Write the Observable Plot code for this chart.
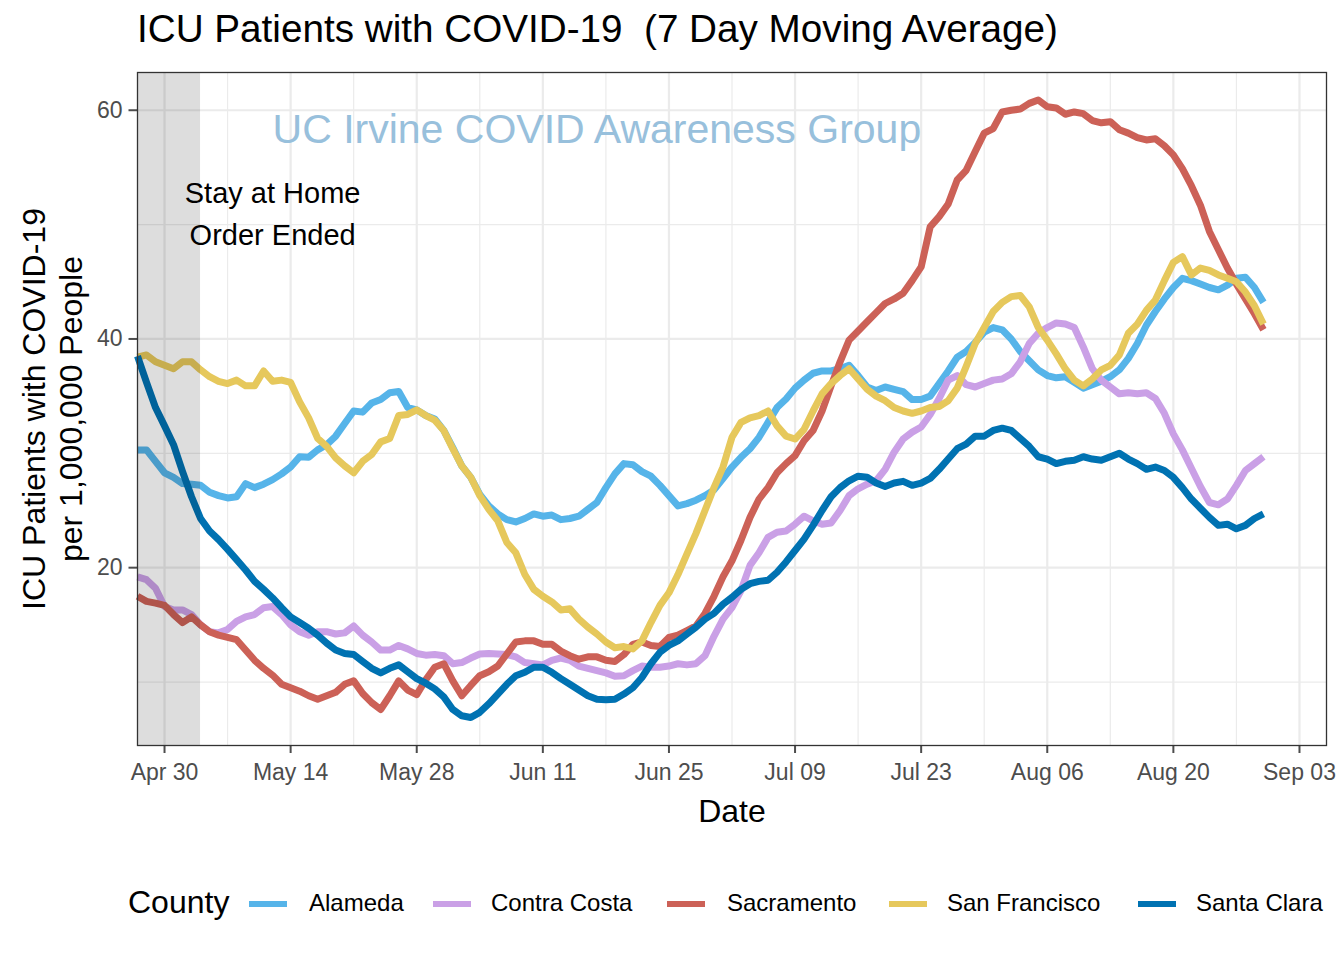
<!DOCTYPE html>
<html>
<head>
<meta charset="utf-8">
<script src="https://cdn.jsdelivr.net/npm/d3@7"></script>
<script src="https://cdn.jsdelivr.net/npm/@observablehq/plot@0.6"></script>
<style>
  html, body { margin: 0; padding: 0; background: #fff; overflow: hidden; }
  body { font-family: "Liberation Sans", Arial, Helvetica, sans-serif; }
  #wrap { position: relative; width: 1344px; height: 960px; }
  #title { position: absolute; left: 137px; top: 10px; font-size: 38px; line-height: 1; white-space: pre; color: #000; transform-origin: left top; }
  #chart { position: absolute; left: 0; top: 60px; }
  .leg { position: absolute; white-space: pre; color: #000; line-height: 1; }
  .key { position: absolute; height: 6px; width: 38px; }
</style>
</head>
<body>
<div id="wrap">
  <div id="title">ICU Patients with COVID-19  (7 Day Moving Average)</div>
  <div id="chart"></div>
  <div id="legend"></div>
</div>
<script>
// ---- data (daily values starting 2020-04-27) ----
const startDate = "2020-04-27";
const counties = ["Alameda", "Contra Costa", "Sacramento", "San Francisco", "Santa Clara"];
const colors = ["#56B4E9", "#CAA0E6", "#CC6157", "#E6C85C", "#0072B2"];

const alameda = [30.3,30.3,29.3,28.3,27.9,27.35,27.3,27.2,26.6,26.3,26.1,26.2,27.35,27.0,27.3,27.7,28.2,28.8,29.7,29.65,30.3,30.75,31.5,32.6,33.7,33.6,34.4,34.7,35.3,35.4,34.0,33.8,33.3,33.0,32.0,30.5,28.9,27.9,26.4,25.4,24.7,24.2,24.0,24.3,24.7,24.5,24.6,24.2,24.3,24.5,25.1,25.7,27.0,28.2,29.1,29.0,28.4,28.0,27.2,26.3,25.4,25.6,25.9,26.3,26.8,27.8,28.8,29.65,30.4,31.4,32.7,34.0,34.75,35.7,36.4,37.0,37.2,37.2,37.4,37.7,36.8,35.8,35.5,35.8,35.6,35.4,34.7,34.7,35.0,36.1,37.2,38.4,38.9,39.7,40.6,41.0,40.8,40.0,38.9,38.1,37.3,36.8,36.6,36.7,36.2,35.7,36.0,36.3,36.7,37.3,38.3,39.6,41.2,42.4,43.5,44.5,45.3,45.1,44.8,44.5,44.3,44.7,45.3,45.4,44.5,43.2];

const contraCosta = [19.2,18.95,18.2,16.6,16.3,16.3,15.9,15.0,14.4,14.3,14.6,15.3,15.7,15.9,16.5,16.6,15.9,15.0,14.4,14.1,14.4,14.4,14.2,14.3,14.9,14.1,13.5,12.8,12.8,13.2,12.9,12.5,12.35,12.4,12.3,11.6,11.7,12.1,12.45,12.5,12.45,12.4,12.2,11.7,11.6,11.5,11.9,12.1,11.9,11.4,11.2,11.0,10.8,10.5,10.55,11.0,11.4,11.3,11.3,11.4,11.6,11.5,11.6,12.3,14.0,15.5,16.5,18.0,20.2,21.3,22.65,23.1,23.2,23.8,24.5,24.1,23.8,23.9,25.0,26.3,26.9,27.3,27.6,28.6,30.1,31.25,31.85,32.3,33.4,34.8,36.4,36.8,36.0,35.8,36.1,36.4,36.5,36.95,38.0,39.6,40.5,41.0,41.4,41.3,41.0,39.3,37.4,36.4,35.8,35.2,35.3,35.2,35.3,34.8,33.5,31.7,30.3,28.7,27.1,25.7,25.5,26.0,27.2,28.5,29.1,29.7];

const sacramento = [17.5,17.05,16.9,16.7,15.9,15.2,15.7,15.0,14.4,14.1,13.9,13.7,12.8,11.9,11.2,10.6,9.8,9.5,9.2,8.8,8.5,8.8,9.1,9.8,10.1,9.0,8.2,7.6,8.8,10.1,9.3,8.9,10.2,11.3,11.6,10.1,8.8,9.7,10.55,10.9,11.4,12.45,13.5,13.6,13.6,13.3,13.3,12.7,12.3,12.0,12.2,12.2,11.9,11.8,12.4,13.3,13.5,13.2,13.1,13.9,14.1,14.5,14.9,16.0,17.5,19.2,20.6,22.4,24.4,26.0,27.0,28.3,29.1,29.8,31.1,32.0,33.7,35.9,38.0,39.9,40.7,41.5,42.3,43.1,43.5,44.0,45.1,46.3,49.8,50.7,51.8,53.9,54.75,56.4,58.0,58.4,59.85,60.0,60.1,60.6,60.9,60.3,60.2,59.65,59.85,59.7,59.1,58.9,59.0,58.3,58.0,57.6,57.4,57.5,56.9,56.1,54.9,53.4,51.7,49.4,47.8,46.2,44.8,43.5,42.2,40.8];

const sanFrancisco = [38.4,38.6,38.0,37.7,37.4,38.0,38.0,37.3,36.7,36.3,36.1,36.4,35.9,35.9,37.2,36.3,36.4,36.2,34.5,33.1,31.3,30.6,29.6,28.9,28.3,29.3,29.9,31.0,31.3,33.3,33.4,33.8,33.3,32.9,32.0,30.4,28.9,27.9,26.3,25.1,24.1,22.2,21.3,19.4,18.1,17.5,17.0,16.3,16.4,15.5,14.8,14.2,13.5,13.0,13.1,12.9,13.6,15.2,16.7,17.8,19.4,21.2,23.0,25.0,27.0,28.8,31.4,32.7,33.1,33.3,33.7,32.4,31.5,31.25,32.1,33.7,35.2,36.1,36.8,37.4,36.5,35.6,35.0,34.6,34.0,33.7,33.5,33.7,34.0,34.1,34.6,35.7,37.6,39.6,41.0,42.4,43.2,43.7,43.8,42.8,41.0,39.9,38.7,37.4,36.4,35.9,36.5,37.3,37.7,38.6,40.5,41.3,42.5,43.4,45.1,46.7,47.2,45.6,46.2,46.0,45.6,45.3,45.0,44.1,42.9,41.3];

const santaClara = [38.5,36.2,34.0,32.4,30.75,28.4,26.2,24.3,23.2,22.45,21.6,20.7,19.8,18.8,18.1,17.35,16.5,15.7,15.2,14.7,14.1,13.4,12.8,12.5,12.4,11.8,11.2,10.8,11.2,11.5,10.9,10.3,9.9,9.4,8.7,7.6,7.05,6.9,7.35,8.1,8.95,9.8,10.55,10.85,11.3,11.3,10.85,10.3,9.8,9.3,8.8,8.5,8.45,8.5,8.95,9.5,10.4,11.6,12.6,13.2,13.6,14.2,14.8,15.5,16.0,16.8,17.4,18.1,18.6,18.8,18.9,19.6,20.5,21.5,22.5,23.7,25.0,26.2,27.0,27.6,28.0,27.9,27.4,27.1,27.4,27.55,27.2,27.4,27.8,28.6,29.5,30.4,30.8,31.5,31.5,32.0,32.2,32.0,31.3,30.6,29.7,29.5,29.1,29.3,29.4,29.7,29.5,29.4,29.7,30.0,29.5,29.1,28.6,28.8,28.5,27.9,27.0,26.0,25.2,24.4,23.7,23.8,23.4,23.7,24.3,24.7];

const seriesList = [alameda, contraCosta, sacramento, sanFrancisco, santaClara];

const majorTicks = ["2020-04-30","2020-05-14","2020-05-28","2020-06-11","2020-06-25","2020-07-09","2020-07-23","2020-08-06","2020-08-20","2020-09-03"];
const minorTicks = ["2020-05-07","2020-05-21","2020-06-04","2020-06-18","2020-07-02","2020-07-16","2020-07-30","2020-08-13","2020-08-27"];
const yMajor = [20, 40, 60];
const yMinor = [10, 30, 50];
const xDomain = ["2020-04-27", "2020-09-06"];
const yDomain = [4.45, 63.3];
const shade = {start: "2020-04-27", end: "2020-05-04"};
const annotation = {date: "2020-05-12", value: 51.25, text: "Stay at Home\nOrder Ended"};
const watermark = {date: "2020-06-17", value: 58.25, text: "UC Irvine COVID Awareness Group"};

// ---- build table ----
const DAY = 864e5;
const t0 = new Date(startDate + "T00:00:00Z").getTime();
const D = s => new Date(s + "T00:00:00Z");
const rows = [];
counties.forEach((c, k) => {
  seriesList[k].forEach((v, i) => rows.push({county: c, date: new Date(t0 + i * DAY), value: v}));
});

const font = "'Liberation Sans', Arial, Helvetica, sans-serif";

const chart = Plot.plot({
  width: 1344,
  height: 800,
  marginLeft: 137,
  marginRight: 18,
  marginTop: 12,
  marginBottom: 115,
  style: {fontFamily: font, background: "#fff", overflow: "visible"},
  x: {type: "utc", domain: xDomain.map(D)},
  y: {domain: yDomain},
  color: {domain: counties, range: colors},
  marks: [
    Plot.ruleY(yMinor, {stroke: "#ebebeb", strokeWidth: 1.2}),
    Plot.ruleX(minorTicks.map(D), {stroke: "#ebebeb", strokeWidth: 1.2}),
    Plot.ruleY(yMajor, {stroke: "#ebebeb", strokeWidth: 2.2}),
    Plot.ruleX(majorTicks.map(D), {stroke: "#ebebeb", strokeWidth: 2.2}),
    Plot.line(rows, {x: "date", y: "value", z: "county", stroke: "county", strokeWidth: 7, strokeLinejoin: "round", strokeLinecap: "butt"}),
    Plot.rect([shade], {x1: d => D(d.start), x2: d => D(d.end), fill: "#000", fillOpacity: 0.135}),
    Plot.text([watermark], {x: d => D(d.date), y: "value", text: "text", fontSize: 41, fill: "#98c0dc", lineAnchor: "middle", textAnchor: "middle"}),
    Plot.text([annotation], {x: d => D(d.date), y: "value", text: "text", fontSize: 29, lineHeight: 1.45, fill: "#000", lineAnchor: "middle", textAnchor: "middle"}),
    Plot.axisX({ticks: majorTicks.map(D), tickFormat: d3.utcFormat("%b %d"), tickSize: 8, tickPadding: 10, fontSize: 23, color: "#4d4d4d", strokeWidth: 2, label: null}),
    Plot.axisY({ticks: yMajor, tickSize: 8.5, tickPadding: 6.5, fontSize: 23, color: "#4d4d4d", strokeWidth: 2, label: null}),
    Plot.text(["Date"], {frameAnchor: "bottom", dy: 76, lineAnchor: "bottom", fontSize: 32, fill: "#000"}),
    Plot.text(["ICU Patients with COVID-19\nper 1,000,000 People"], {frameAnchor: "left", rotate: -90, dx: -86, textAnchor: "middle", lineAnchor: "middle", lineHeight: 1.15, fontSize: 32, fill: "#000"}),
    Plot.frame({stroke: "#333", strokeWidth: 1.3})
  ]
});
document.getElementById("chart").appendChild(chart);

// ---- title horizontal fit ----
const title = document.getElementById("title");
const tw = title.getBoundingClientRect().width;
title.style.transform = `scaleX(${921 / tw})`;

// ---- legend ----
const legend = document.getElementById("legend");
const legendY = 904;
const keyLeft = [249, 433, 667, 889, 1138];
const labelLeft = [309, 491, 727, 947, 1196];
const t = document.createElement("div");
t.className = "leg";
t.textContent = "County";
t.style.cssText = `left:128px; top:${legendY - 18}px; font-size:32px;`;
legend.appendChild(t);
counties.forEach((c, k) => {
  const key = document.createElement("div");
  key.className = "key";
  key.style.cssText = `left:${keyLeft[k]}px; top:${legendY - 3}px; background:${colors[k]};`;
  legend.appendChild(key);
  const lab = document.createElement("div");
  lab.className = "leg";
  lab.textContent = c;
  lab.style.cssText = `left:${labelLeft[k]}px; top:${legendY - 13}px; font-size:24px;`;
  legend.appendChild(lab);
});
</script>
</body>
</html>
